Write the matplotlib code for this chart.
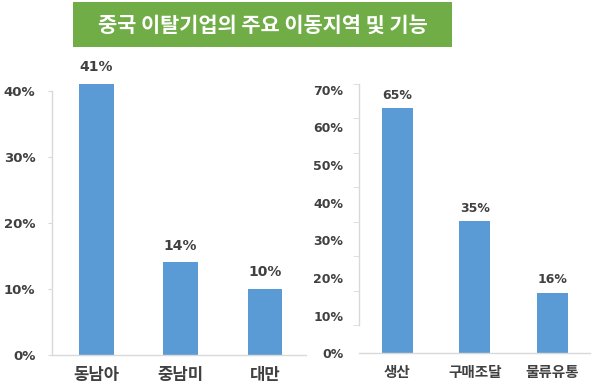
import matplotlib
matplotlib.use("Agg")
import matplotlib.pyplot as plt
import numpy as np
from matplotlib.patches import Rectangle

plt.rcParams['font.family'] = ['Noto Sans CJK KR', 'DejaVu Sans']

title = "중국 이탈기업의 주요 이동지역 및 기능"
regions = ["동남아", "중남미", "대만"]
region_vals = [41, 14, 10]
region_ticks = [0, 10, 20, 30, 40]
functions = ["생산", "구매조달", "물류유통"]
function_vals = [65, 35, 16]
function_ticks = [0, 10, 20, 30, 40, 50, 60, 70]

bar_color = "#5B9BD5"
text_color = "#404040"
axis_color = "#D9D9D9"
num_font = ['DejaVu Sans']

W, H = 600, 391
fig = plt.figure(figsize=(6, 3.91), dpi=100)

# title banner
fig.patches.append(Rectangle((73 / W, 1 - 47 / H), (452 - 73) / W, 45 / H,
                             transform=fig.transFigure, facecolor="#70AD47",
                             edgecolor="none", zorder=0))
fig.text((73 + 452) / 2 / W, 1 - 25 / H, title, color="white", fontsize=15,
         fontweight="bold", ha="center", va="center")


def style(ax):
    for s in ["top", "right"]:
        ax.spines[s].set_visible(False)
    ax.spines["left"].set_color(axis_color)
    ax.spines["bottom"].set_color(axis_color)
    ax.spines["left"].set_linewidth(1.0)
    ax.spines["bottom"].set_linewidth(1.0)
    ax.tick_params(axis="x", length=0, pad=8, colors=text_color)
    ax.tick_params(axis="y", colors=text_color)


# left panel
ax1 = fig.add_axes([52 / W, 1 - 355 / H, (306 - 52) / W, (355 - 90.7) / H])
x1 = np.arange(len(regions))
ax1.bar(x1, region_vals, width=0.41, color=bar_color, clip_on=False, zorder=2)
ax1.set_xlim(-0.53, 2.49)
ax1.set_ylim(0, 40)
ax1.set_xticks(x1)
ax1.set_xticklabels(regions, fontsize=12, fontweight="bold")
ax1.set_yticks(region_ticks)
ax1.set_yticklabels([f"{t}%" for t in region_ticks], fontsize=9.5,
                    fontweight="bold", family=num_font)
style(ax1)
ax1.tick_params(axis="y", length=3, color=axis_color, pad=9)
for xi, v in zip(x1, region_vals):
    ax1.annotate(f"{v}%", (xi, v), xytext=(0, 7), textcoords="offset points",
                 ha="center", va="bottom", fontsize=10, fontweight="bold",
                 family=num_font, color=text_color, annotation_clip=False)

# right panel
ax2 = fig.add_axes([359.3 / W, 1 - 353.3 / H, (590 - 359.3) / W, (353.3 - 84) / H])
x2 = np.arange(len(functions))
ax2.bar(x2, function_vals, width=0.40, color=bar_color, zorder=2)
ax2.set_xlim(-0.49, 2.49)
ax2.set_ylim(0, 70)
ax2.set_xticks(x2)
ax2.set_xticklabels(functions, fontsize=10.5, fontweight="bold")
ax2.set_yticks(function_ticks)
ax2.set_yticklabels([f"{t}%" for t in function_ticks], fontsize=9,
                    fontweight="bold", family=num_font)
style(ax2)
ax2.tick_params(axis="y", which="major", length=0, pad=11.5)
ax2.spines["left"].set_bounds(7.4, 71.5)
ax2.set_yticks(np.linspace(7.4, 71.5, 8), minor=True)
ax2.tick_params(axis="y", which="minor", length=4, color=axis_color)
for xi, v in zip(x2, function_vals):
    ax2.annotate(f"{v}%", (xi, v), xytext=(0, 5), textcoords="offset points",
                 ha="center", va="bottom", fontsize=9, fontweight="bold",
                 family=num_font, color=text_color, annotation_clip=False)

fig.savefig("out.png", dpi=100)
